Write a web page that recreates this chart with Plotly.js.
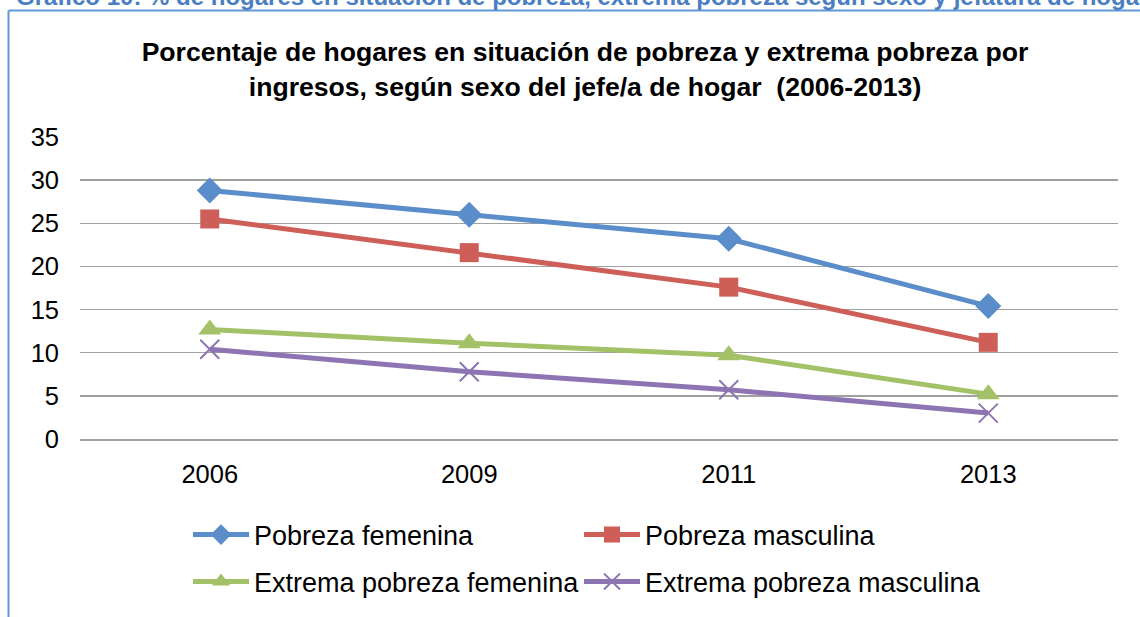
<!DOCTYPE html>
<html>
<head>
<meta charset="utf-8">
<script src="https://cdn.plot.ly/plotly-3.0.1.min.js"></script>
<style>
html,body{margin:0;padding:0;background:#fff;}
#chart{width:1140px;height:617px;}
</style>
</head>
<body>
<div id="chart"></div>
<script>
var years = ['2006', '2009', '2011', '2013'];
var pobrezaFemenina = [28.8, 26.0, 23.2, 15.4];
var pobrezaMasculina = [25.5, 21.6, 17.6, 11.2];
var extremaFemenina = [12.7, 11.1, 9.7, 5.2];
var extremaMasculina = [10.4, 7.8, 5.7, 3.0];
var seriesNames = ['Pobreza femenina', 'Pobreza masculina', 'Extrema pobreza femenina', 'Extrema pobreza masculina'];
var yTicks = [0, 5, 10, 15, 20, 25, 30, 35];

var FONT = 'Liberation Sans, Arial, sans-serif';

var traces = [
  {x: years, y: pobrezaFemenina, name: seriesNames[0], type: 'scatter', mode: 'lines+markers', showlegend: true,
   line: {color: '#5A8DC9', width: 5}, marker: {symbol: 'diamond', size: 20, color: '#5A8DC9'}, legend: 'legend'},
  {x: years, y: pobrezaMasculina, name: seriesNames[1], type: 'scatter', mode: 'lines+markers', showlegend: true,
   line: {color: '#CD5F58', width: 5}, marker: {symbol: 'square', size: 19, color: '#CD5F58'}, legend: 'legend2'},
  {x: years, y: extremaFemenina, name: seriesNames[2], type: 'scatter', mode: 'lines+markers', showlegend: true,
   line: {color: '#A3C166', width: 5}, marker: {symbol: 'triangle-up', size: 20, color: '#A3C166'}, legend: 'legend3'},
  {x: years, y: extremaMasculina, name: seriesNames[3], type: 'scatter', mode: 'lines+markers', showlegend: true,
   line: {color: '#8D74B2', width: 5}, marker: {symbol: 'x-thin-open', size: 19, color: '#8D74B2', line: {width: 2, color: '#8D74B2'}}, legend: 'legend4'}
];

var L = 80, R = 1118, T = 137, B = 440;
function px(x) { return (x - L) / (R - L); }
function py(y) { return (B - y) / (B - T); }

var legendCommon = {
  orientation: 'h', xanchor: 'left', yanchor: 'middle',
  font: {family: FONT, size: 27, color: '#000'},
  itemwidth: 56,
  bgcolor: 'rgba(0,0,0,0)', borderwidth: 0, itemclick: false
};

var layout = {
  width: 1140, height: 617,
  showlegend: true,
  paper_bgcolor: '#fff', plot_bgcolor: '#fff',
  margin: {l: L, r: 1140 - R, t: T, b: 617 - B, pad: 0},
  font: {family: FONT, color: '#000'},
  title: {
    text: 'Porcentaje de hogares en situación de pobreza y extrema pobreza por<br>ingresos, según sexo del jefe/a de hogar&nbsp; (2006-2013)',
    font: {family: FONT, size: 26.6, color: '#000', weight: 'bold'},
    xref: 'container', x: 585 / 1140, xanchor: 'center',
    yref: 'container', y: 1 - 61 / 617, yanchor: 'top'
  },
  xaxis: {
    type: 'category', range: [-0.5, 3.5], showgrid: false, zeroline: false,
    showline: true, linecolor: '#A0A0A0', linewidth: 1.5,
    ticks: '', ticklabelstandoff: 12,
    tickfont: {family: FONT, size: 25.5, color: '#000'}
  },
  yaxis: {
    range: [0, 35], tickvals: yTicks, ticktext: yTicks.map(String),
    showgrid: true, gridcolor: '#A0A0A0', gridwidth: 1.5, zeroline: false,
    showline: false, ticks: '', ticklabelstandoff: 20,
    tickfont: {family: FONT, size: 25.5, color: '#000'}
  },
  legend: Object.assign({}, legendCommon, {x: px(188), y: py(535)}),
  legend2: Object.assign({}, legendCommon, {x: px(579), y: py(535)}),
  legend3: Object.assign({}, legendCommon, {x: px(188), y: py(582)}),
  legend4: Object.assign({}, legendCommon, {x: px(579), y: py(582)}),
  annotations: [{
    text: 'Gráfico 10: % de hogares en situación de pobreza, extrema pobreza según sexo y jefatura de hogar',
    xref: 'paper', yref: 'paper', x: px(14), y: py(12), xanchor: 'left', yanchor: 'bottom',
    showarrow: false, font: {family: FONT, size: 24, color: '#4A7EC1', weight: 'bold'}
  }],
  shapes: [
    {type: 'line', xref: 'paper', yref: 'paper', x0: px(8.5), x1: px(1145), y0: py(10), y1: py(10), line: {color: '#6198D6', width: 2}},
    {type: 'line', xref: 'paper', yref: 'paper', x0: px(8.5), x1: px(8.5), y0: py(10), y1: py(625), line: {color: '#6198D6', width: 2}}
  ]
};

Plotly.newPlot('chart', traces, layout, {displayModeBar: false, staticPlot: true});
</script>
</body>
</html>
